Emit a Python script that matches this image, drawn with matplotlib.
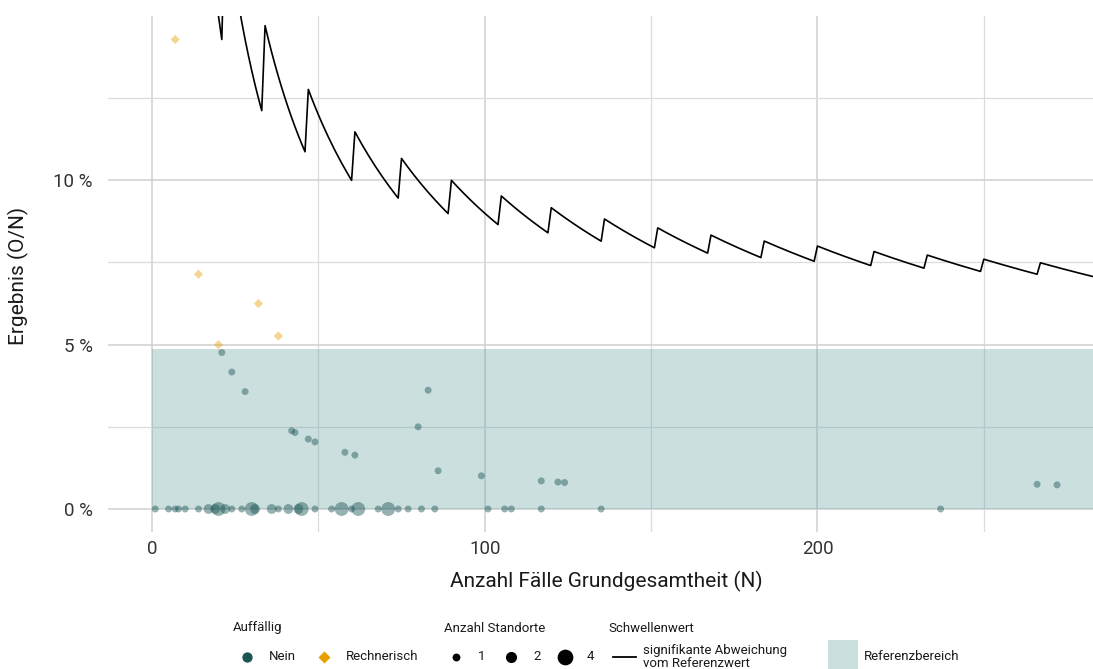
import numpy as np
import matplotlib
matplotlib.use("Agg")
import matplotlib.pyplot as plt

plt.rcParams['font.family'] = ['Roboto', 'DejaVu Sans']

# Nein: N, O and number of sites per point
nein_n = [1, 5, 7, 8, 10, 14, 17, 19, 20, 22, 24, 27, 30, 31, 36, 38, 41, 44,
          45, 49, 54, 57, 60, 62, 68, 71, 74, 77, 81, 85, 101, 106, 108, 117,
          135, 237,
          21, 24, 28, 42, 43, 47, 49, 58, 61, 80, 83, 86, 99, 117, 122, 124,
          266, 272]
nein_o = [0] * 36 + [1, 1, 1, 1, 1, 1, 1, 1, 1, 2, 3, 1, 1, 1, 1, 1, 2, 2]
nein_sites = [1, 1, 1, 1, 1, 1, 2, 2, 4, 2, 1, 1, 4, 2, 2, 1, 2, 2,
              4, 1, 1, 4, 1, 4, 1, 4, 1, 1, 1, 1, 1, 1, 1, 1,
              1, 1] + [1] * 18

# Rechnerisch auffällig
rech_n = [7, 14, 20, 32, 38]
rech_o = [1, 1, 1, 2, 2]
rech_sites = [1, 1, 1, 1, 1]

# critical count k valid from N = thr_start[i] on
thr_start = [16, 22, 34, 47, 61, 75, 90, 105, 120, 136, 152, 168, 184, 200,
             217, 233, 250, 267]
thr_k = list(range(3, 21))
thr_end = 286

ref_lower = 0.0
ref_upper = 4.88

teal = '#1a5553'
orange = '#e69f00'
band = '#6aa4a6'
txt = '#1a1a1a'

fig = plt.figure(figsize=(10.93, 6.69), dpi=100)
W, H = 1093, 669
ax = fig.add_axes([108 / W, 1 - 532 / H, (W - 108) / W, (532 - 16) / H])

# threshold line, one vertex per integer N
thr_n = np.arange(thr_start[0], thr_end)
idx = np.searchsorted(thr_start, thr_n, side='right') - 1
thr_val = 100 * np.array(thr_k)[idx] / thr_n
ax.plot(thr_n, thr_val, color='black', lw=1.2, zorder=3)

ax.fill_between([ref_lower, 1000], ref_lower, ref_upper, color=band,
                alpha=0.35, lw=0, zorder=1)

ax.scatter(nein_n, 100 * np.array(nein_o) / np.array(nein_n),
           s=25 * np.array(nein_sites), color=teal, alpha=0.45, lw=0, zorder=4)
ax.scatter(rech_n, 100 * np.array(rech_o) / np.array(rech_n),
           s=22 * np.array(rech_sites), marker='D', color=orange, alpha=0.43,
           lw=0, zorder=4)

ax.set_xlim(-13.2, 282.8)
ax.set_ylim(-0.7, 15.0)
ax.set_xticks([0, 100, 200])
ax.set_xticks([50, 150, 250], minor=True)
ax.set_yticks([0, 5, 10])
ax.set_yticks([2.5, 7.5, 12.5], minor=True)
ax.set_yticklabels(['0 %', '5 %', '10 %'])
ax.grid(True, which='major', color='#d0d0d0', lw=1.1)
ax.grid(True, which='minor', color='#dcdcdc', lw=0.9)
ax.set_axisbelow(True)
for s in ax.spines.values():
    s.set_visible(False)
ax.tick_params(which='both', length=0, labelsize=13.5, labelcolor='#333333')
ax.tick_params(axis='y', pad=11)
ax.tick_params(axis='x', pad=6)

fig.text(18 / W, 1 - 276 / H, 'Ergebnis (O/N)', rotation=90, ha='center',
         va='center', fontsize=15, color=txt)
fig.text(606 / W, 1 - 581 / H, 'Anzahl Fälle Grundgesamtheit (N)',
         ha='center', va='center', fontsize=15, color=txt)

# legend drawn in pixel space
lg = fig.add_axes([0, 0, 1, 1])
lg.set_xlim(0, W)
lg.set_ylim(H, 0)
lg.axis('off')
fs = 9.5
ty, ry = 628, 657
lg.text(233, ty, 'Auffällig', fontsize=fs, va='center', color=txt)
lg.scatter([247], [ry], s=55, color=teal, lw=0)
lg.text(269, ry, 'Nein', fontsize=fs, va='center', color=txt)
lg.scatter([324], [ry], s=38, marker='D', color=orange, lw=0)
lg.text(346, ry, 'Rechnerisch', fontsize=fs, va='center', color=txt)

lg.text(444, ty, 'Anzahl Standorte', fontsize=fs, va='center', color=txt)
for x, n in zip([456, 511, 565], [1, 2, 4]):
    lg.scatter([x], [ry], s=32 * n, color='black', lw=0)
    lg.text(x + 22, ry, str(n), fontsize=fs, va='center', color=txt)

lg.text(608, ty, 'Schwellenwert', fontsize=fs, va='center', color=txt)
lg.plot([613, 636], [ry, ry], color='black', lw=1.3)
lg.text(643, ry, 'signifikante Abweichung\nvom Referenzwert', fontsize=fs,
        va='center', color=txt, linespacing=0.92)

lg.add_patch(plt.Rectangle((828, 640), 30, 30, color=band, alpha=0.35, lw=0))
lg.text(864, ry, 'Referenzbereich', fontsize=fs, va='center', color=txt)

fig.savefig('out.png', dpi=100)
